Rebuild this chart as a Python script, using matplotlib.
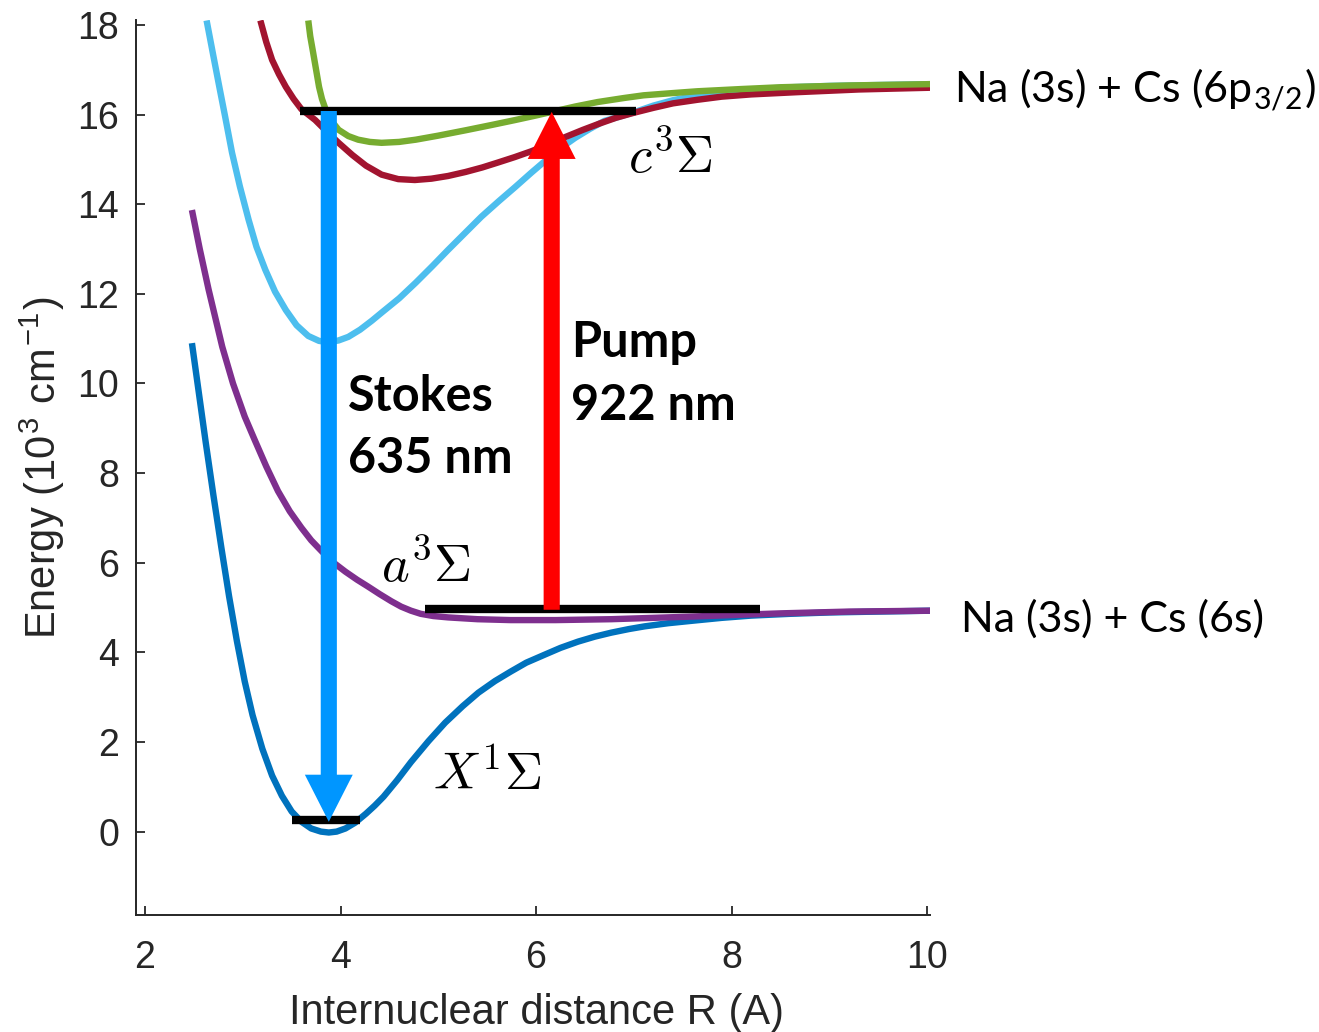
import matplotlib.pyplot as plt

plt.rcParams['mathtext.fontset'] = 'cm'

# --- potential curves, R in Angstrom, energy in 10^3 cm^-1 ---
r_X = [2.48, 2.55, 2.62, 2.7, 2.78, 2.86, 2.94, 3.02, 3.1, 3.2, 3.3, 3.4, 3.5,
       3.6, 3.7, 3.8, 3.88, 3.96, 4.05, 4.15, 4.26, 4.35, 4.44, 4.58, 4.72, 4.9,
       5.07, 5.25, 5.41, 5.58, 5.74, 5.9, 6.09, 6.25, 6.43, 6.6, 6.77, 6.95, 7.11,
       7.35, 7.62, 7.9, 8.2, 8.6, 9.0, 9.5, 10.05]
e_X = [10.9, 9.8, 8.7, 7.5, 6.35, 5.25, 4.25, 3.35, 2.6, 1.85, 1.25, 0.8, 0.45,
       0.22, 0.07, 0.0, -0.02, 0.0, 0.07, 0.2, 0.4, 0.58, 0.78, 1.15, 1.55, 2.02,
       2.43, 2.8, 3.1, 3.36, 3.57, 3.77, 3.95, 4.1, 4.24, 4.35, 4.44, 4.52, 4.58,
       4.65, 4.71, 4.77, 4.82, 4.86, 4.89, 4.91, 4.93]

r_a = [2.48, 2.56, 2.65, 2.79, 2.9, 3.02, 3.12, 3.24, 3.36, 3.48, 3.6, 3.7, 3.81,
       3.93, 4.05, 4.17, 4.28, 4.4, 4.52, 4.62, 4.72, 4.82, 4.95, 5.1, 5.4, 5.74,
       6.2, 6.77, 7.2, 7.62, 8.1, 8.5, 9.2, 10.05]
e_a = [13.87, 13.0, 12.1, 10.82, 10.0, 9.26, 8.75, 8.15, 7.6, 7.15, 6.78, 6.5, 6.25,
       6.0, 5.8, 5.62, 5.47, 5.3, 5.14, 5.02, 4.93, 4.86, 4.81, 4.78, 4.74, 4.72,
       4.72, 4.74, 4.77, 4.8, 4.84, 4.87, 4.91, 4.93]

r_b = [2.63, 2.7, 2.76, 2.82, 2.89, 2.97, 3.06, 3.14, 3.23, 3.33, 3.44, 3.55, 3.67,
       3.78, 3.88, 3.98, 4.08, 4.2, 4.32, 4.42, 4.6, 4.77, 4.94, 5.1, 5.27, 5.44,
       5.62, 5.79, 5.95, 6.1, 6.25, 6.4, 6.55, 6.7, 6.85, 7.0, 7.2, 7.4, 7.6, 7.9,
       8.2, 8.6, 9.0, 9.5, 10.05]
e_b = [18.1, 17.3, 16.62, 15.95, 15.15, 14.4, 13.65, 13.05, 12.54, 12.05, 11.64,
       11.3, 11.06, 10.95, 10.92, 10.96, 11.04, 11.2, 11.4, 11.58, 11.9, 12.25,
       12.62, 12.98, 13.35, 13.72, 14.07, 14.39, 14.7, 14.98, 15.25, 15.48, 15.68,
       15.86, 15.95, 16.05, 16.2, 16.32, 16.41, 16.5, 16.56, 16.61, 16.64, 16.66,
       16.68]

r_c = [3.18, 3.24, 3.3, 3.37, 3.44, 3.52, 3.6, 3.67, 3.74, 3.86, 3.98, 4.12, 4.26,
       4.42, 4.59, 4.76, 4.93, 5.1, 5.28, 5.45, 5.61, 5.78, 5.95, 6.12, 6.3, 6.48,
       6.65, 6.82, 7.0, 7.2, 7.4, 7.65, 7.9, 8.2, 8.67, 9.3, 10.05]
e_c = [18.1, 17.62, 17.22, 16.9, 16.62, 16.35, 16.12, 16.0, 15.88, 15.62, 15.37,
       15.1, 14.86, 14.66, 14.56, 14.54, 14.57, 14.63, 14.72, 14.82, 14.93, 15.05,
       15.18, 15.33, 15.5, 15.66, 15.8, 15.93, 16.04, 16.15, 16.25, 16.33, 16.4,
       16.45, 16.5, 16.56, 16.6]

r_g = [3.67, 3.69, 3.72, 3.75, 3.78, 3.81, 3.85, 3.9, 3.98, 4.08, 4.18, 4.3, 4.42,
       4.6, 4.77, 5.0, 5.28, 5.55, 5.79, 6.0, 6.12, 6.4, 6.63, 6.9, 7.1, 7.4, 7.65,
       8.1, 8.5, 9.2, 10.05]
e_g = [18.1, 17.75, 17.38, 17.0, 16.62, 16.35, 16.1, 15.88, 15.66, 15.52, 15.44,
       15.39, 15.37, 15.39, 15.44, 15.53, 15.65, 15.77, 15.88, 15.98, 16.04, 16.18,
       16.28, 16.37, 16.43, 16.48, 16.52, 16.57, 16.61, 16.65, 16.68]

curves = [(r_X, e_X, '#0072BD'), (r_a, e_a, '#7E2F8E'), (r_b, e_b, '#4DBEEE'),
          (r_c, e_c, '#A2142F'), (r_g, e_g, '#77AC30')]

# vibrational levels: (R start, R end, energy)
levels = [(3.59, 7.02, 16.08), (4.86, 8.29, 4.97), (3.5, 4.2, 0.27)]

# transitions: R, start energy, end energy
stokes = (3.88, 16.08, 0.22)
pump = (6.16, 4.95, 16.06)

fig = plt.figure(figsize=(13.19, 10.32), dpi=100)
ax = fig.add_axes([0.1029, 0.1134, 0.6022, 0.8672])

for r, e, col in curves:
    ax.plot(r, e, color=col, lw=4.6, solid_capstyle='butt', solid_joinstyle='round',
            zorder=2)

for x0, x1, e in levels:
    ax.plot([x0, x1], [e, e], color='black', lw=6, solid_capstyle='butt', zorder=3)

for (r, e0, e1), col in [(stokes, '#0096FF'), (pump, '#FF0000')]:
    ax.arrow(r, e0, 0, e1 - e0, width=0.165, head_width=0.49, head_length=1.05,
             length_includes_head=True, color=col, lw=0, zorder=4)

# state labels
ax.text(4.95, 0.94, r'$X^1\Sigma$', fontsize=38, va='baseline')
ax.text(4.41, 5.58, r'$a^3\Sigma$', fontsize=38, va='baseline')
ax.text(6.94, 14.72, r'$c^3\Sigma$', fontsize=38, va='baseline')

# transition labels
for txt, x, y in [('Stokes', 4.08, 9.39), ('635 nm', 4.08, 8.01),
                  ('Pump', 6.36, 10.6), ('922 nm', 6.36, 9.19)]:
    ax.text(x, y, txt, fontsize=35, fontweight='bold', family='Lato', va='baseline')

# asymptotes
ax.text(10.28, 16.28, r'Na (3s) + Cs (6p$_{\mathregular{3/2}}$)', fontsize=31,
        family='Lato', va='baseline', clip_on=False)
ax.text(10.35, 4.46, 'Na (3s) + Cs (6s)', fontsize=31, family='Lato',
        va='baseline', clip_on=False)

ax.set_xlim(1.905, 10.03)
ax.set_ylim(-1.86, 18.11)
ax.set_xticks([2, 4, 6, 8, 10])
ax.set_yticks(range(0, 19, 2))
for s in ['top', 'right']:
    ax.spines[s].set_visible(False)
for s in ['left', 'bottom']:
    ax.spines[s].set_linewidth(1.4)
    ax.spines[s].set_color('#262626')
ax.tick_params(direction='in', length=6.5, width=1.3, color='#262626',
               labelcolor='#262626', labelsize=27)
ax.tick_params(axis='x', pad=18)
ax.tick_params(axis='y', pad=12)
for lab in ax.get_xticklabels() + ax.get_yticklabels():
    lab.set_family('Liberation Sans')

ax.set_xlabel('Internuclear distance R (A)', fontsize=30, color='#262626',
              family='Liberation Sans')
ax.set_ylabel(r'Energy (10$^{\mathregular{3}}$ cm$^{\mathregular{-1}}$)', fontsize=30,
              color='#262626', family='Liberation Sans')
ax.xaxis.set_label_coords(0.504, -0.087)
ax.yaxis.set_label_coords(-0.087, 0.5)

fig.savefig('out.png', dpi=100)
